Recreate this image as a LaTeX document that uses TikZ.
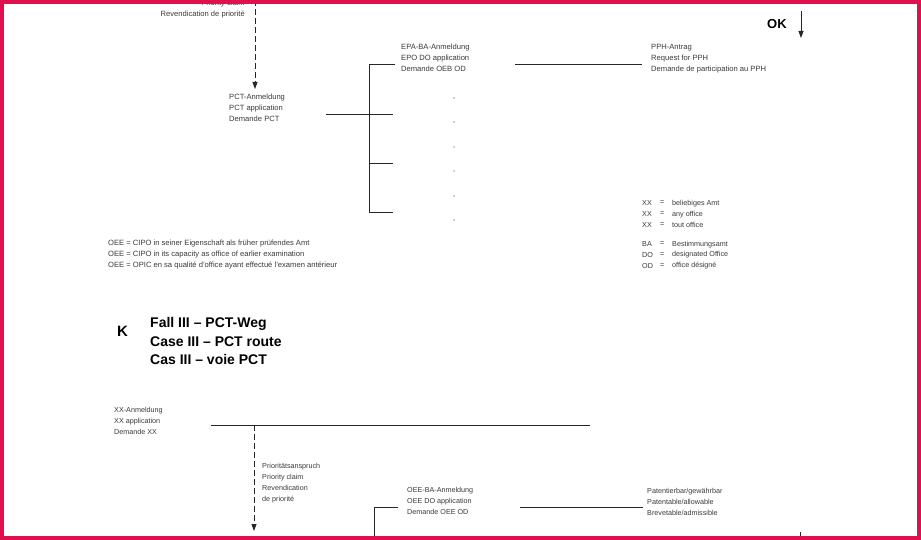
\documentclass[tikz,border=0pt]{standalone}
\usepackage{fontspec}
\setmainfont{Liberation Sans}
\usetikzlibrary{arrows.meta}
\definecolor{frame}{HTML}{E0104F}
\definecolor{txt}{HTML}{3A3A3A}
\begin{document}
\begin{tikzpicture}[x=1pt,y=-1pt,
  t/.style={anchor=west,inner sep=0,text=txt,font=\fontsize{7.6}{11}\selectfont,align=left},
  ts/.style={t,font=\fontsize{7.2}{10.8}\selectfont},
  big/.style={anchor=west,inner sep=0,font=\bfseries\fontsize{14}{18.5}\selectfont,align=left},
  ln/.style={line width=0.8pt,black!85},
  da/.style={ln,dash pattern=on 6pt off 3pt,-{Triangle[width=5pt,length=7pt]}}]
\useasboundingbox (0,0) rectangle (921,540);
\fill[white] (0,0) rectangle (921,540);
% top section
\node[t,anchor=east,align=right] (pc) at (245,9) {Priority claim\\Revendication de priorité};
\coordinate (dtop) at (255,0);
\node[t] (pct) at (229,108) {PCT-Anmeldung\\PCT application\\Demande PCT};
\draw[da] (dtop) -- (255,89);
\coordinate (p1) at (326,114);
\coordinate (b0) at (369,64);
\coordinate (b3) at (369,212);
\draw[ln] (p1) -- (393,114);
\draw[ln] (395,64) -- (b0) -- (b3) -- (393,212);
\draw[ln] (369,163) -- (393,163);
\node[t] (epa) at (401,58) {EPA-BA-Anmeldung\\EPO DO application\\Demande OEB OD};
\foreach \y in {98,122,147,171,196,220} \node[inner sep=0.4pt,fill=txt,circle] at (454,\y) {};
\node[t] (pph) at (651,59) {PPH-Antrag\\Request for PPH\\Demande de participation au PPH};
\draw[ln] (515,64) -- (642,64);
\node[big,font=\bfseries\fontsize{13}{16}\selectfont] (ok) at (767,24) {OK};
\coordinate (oka) at (801,11);
\draw[ln,-{Triangle[width=5pt,length=7pt]}] (oka) -- (801,38);
\node[ts] (xx) at (642,214) {XX\\XX\\XX};
\node[ts] (xxe) at (660,214) {=\\=\\=};
\node[ts] (xxt) at (672,214) {beliebiges Amt\\any office\\tout office};
\node[ts] (ba) at (642,255) {BA\\DO\\OD};
\node[ts] (bae) at (660,255) {=\\=\\=};
\node[ts] (bat) at (672,255) {Bestimmungsamt\\designated Office\\office désigné};
\node[t] (oee) at (108,255) {OEE = CIPO in seiner Eigenschaft als früher prüfendes Amt\\OEE = CIPO in its capacity as office of earlier examination\\OEE = OPIC en sa qualité d’office ayant effectué l’examen antérieur};
% K section
\node[big,font=\bfseries\fontsize{15}{18}\selectfont] (k) at (117,331) {K};
\node[big] (fall) at (150,341) {Fall III – PCT-Weg\\Case III – PCT route\\Cas III – voie PCT};
\node[ts] (xxa) at (114,421) {XX-Anmeldung\\XX application\\Demande XX};
\draw[ln] (211,425) -- (590,425);
\coordinate (d2) at (254,425);
\draw[da] (d2) -- (254,531);
\node[ts] (prio) at (262,483) {Prioritätsanspruch\\Priority claim\\Revendication\\de priorité};
\node[ts] (oeeba) at (407,501) {OEE-BA-Anmeldung\\OEE DO application\\Demande OEE OD};
\draw[ln] (398,507) -- (374,507) -- (374,541);
\draw[ln] (520,507) -- (643,507);
\node[ts] (pat) at (647,502) {Patentierbar/gewährbar\\Patentable/allowable\\Brevetable/admissible};
\draw[ln] (800,532) -- (800,541);
% frame
\draw[frame,line width=8pt] (0,0) rectangle (921,540);
\end{tikzpicture}
\end{document}
